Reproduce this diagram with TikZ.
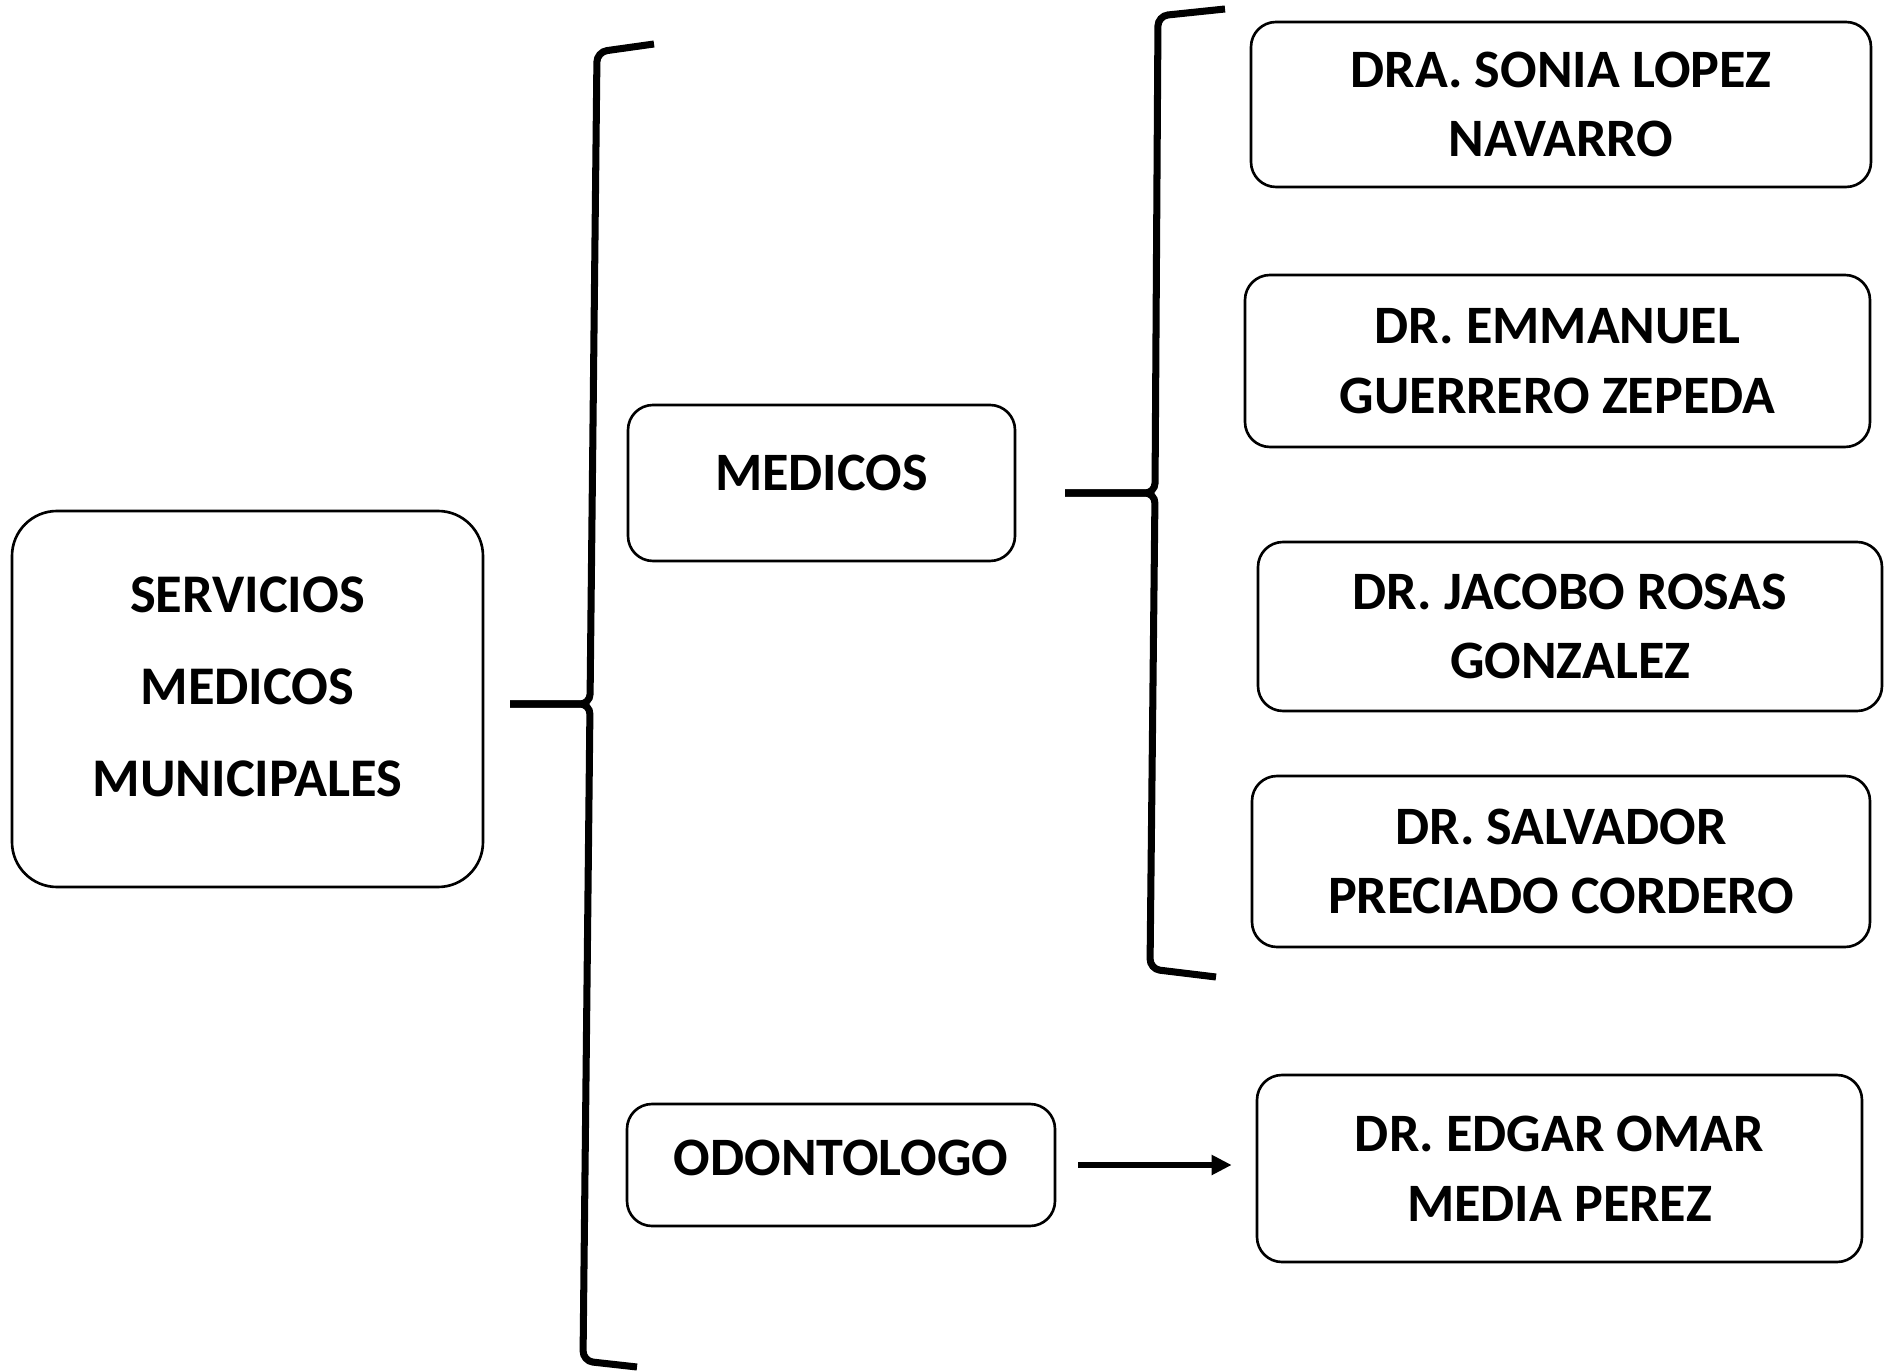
\documentclass[tikz,border=0pt]{standalone}
\usepackage{fontspec}
\setmainfont{Carlito}
\usetikzlibrary{arrows.meta}

\begin{document}
\begin{tikzpicture}[x=0.02cm, y=-0.02cm,
    box/.style={draw, line width=1.5pt, rounded corners=0.5cm, inner sep=0pt, align=center,
      font=\fontsize{30.8}{39.7}\selectfont\bfseries},
    bigbox/.style={box, rounded corners=0.9cm, font=\fontsize{31}{52.2}\selectfont\bfseries},
    brace/.style={line width=4pt, rounded corners=0.2cm},
    arrow/.style={line width=3.8pt, -{Triangle[length=0.4cm, width=0.38cm]}}]
    % define unit (one pixel of the page)
    \def\u{0.02cm}
    \useasboundingbox (0,0) rectangle (1884,1371);

    % left: the whole service
    \node[bigbox, text depth=0.5cm, minimum width=471*\u, minimum height=376*\u] (servicios) at (247.5,699)
      {SERVICIOS\\MEDICOS\\MUNICIPALES};

    % middle: the two groups
    \node[box, text depth=0.4cm, minimum width=387*\u, minimum height=156*\u] (medicos) at (821.5,483) {MEDICOS};
    \node[box, text depth=0.28cm, minimum width=428*\u, minimum height=122*\u] (odonto) at (841,1165) {ODONTOLOGO};

    % right: the doctors
    \node[box, minimum width=620*\u, minimum height=165*\u] (sonia) at (1561,104.5)
      {DRA. SONIA LOPEZ\\NAVARRO};
    \node[box, minimum width=625*\u, minimum height=172*\u] (emmanuel) at (1557.5,361)
      {DR. EMMANUEL\\GUERRERO ZEPEDA};
    \node[box, minimum width=624*\u, minimum height=169*\u] (jacobo) at (1570,626.5)
      {DR. JACOBO ROSAS\\GONZALEZ};
    \node[box, minimum width=618*\u, minimum height=171*\u] (salvador) at (1561,861.5)
      {DR. SALVADOR\\PRECIADO CORDERO};
    \node[box, minimum width=605*\u, minimum height=187*\u] (edgar) at (1559.5,1168.5)
      {DR. EDGAR OMAR\\MEDIA PEREZ};

    % first brace
    \coordinate (stubA) at (510,704);
    \coordinate (topA) at (654,44);
    \coordinate (botA) at (637,1367);
    \draw[brace] (stubA) -- (590,704) -- (597,52) -- (topA);
    \draw[brace] (stubA) -- (590,704) -- (583,1361) -- (botA);

    % second brace
    \coordinate (stubB) at (1065,493);
    \coordinate (topB) at (1225,9);
    \coordinate (botB) at (1216,977);
    \draw[brace] (stubB) -- (1155,493) -- (1158,16) -- (topB);
    \draw[brace] (stubB) -- (1155,493) -- (1150,969) -- (botB);

    % arrow to the dentist
    \draw[arrow, shorten <=0.44cm, shorten >=0.48cm] (odonto.east) -- (odonto.east -| edgar.west);
\end{tikzpicture}
\end{document}
